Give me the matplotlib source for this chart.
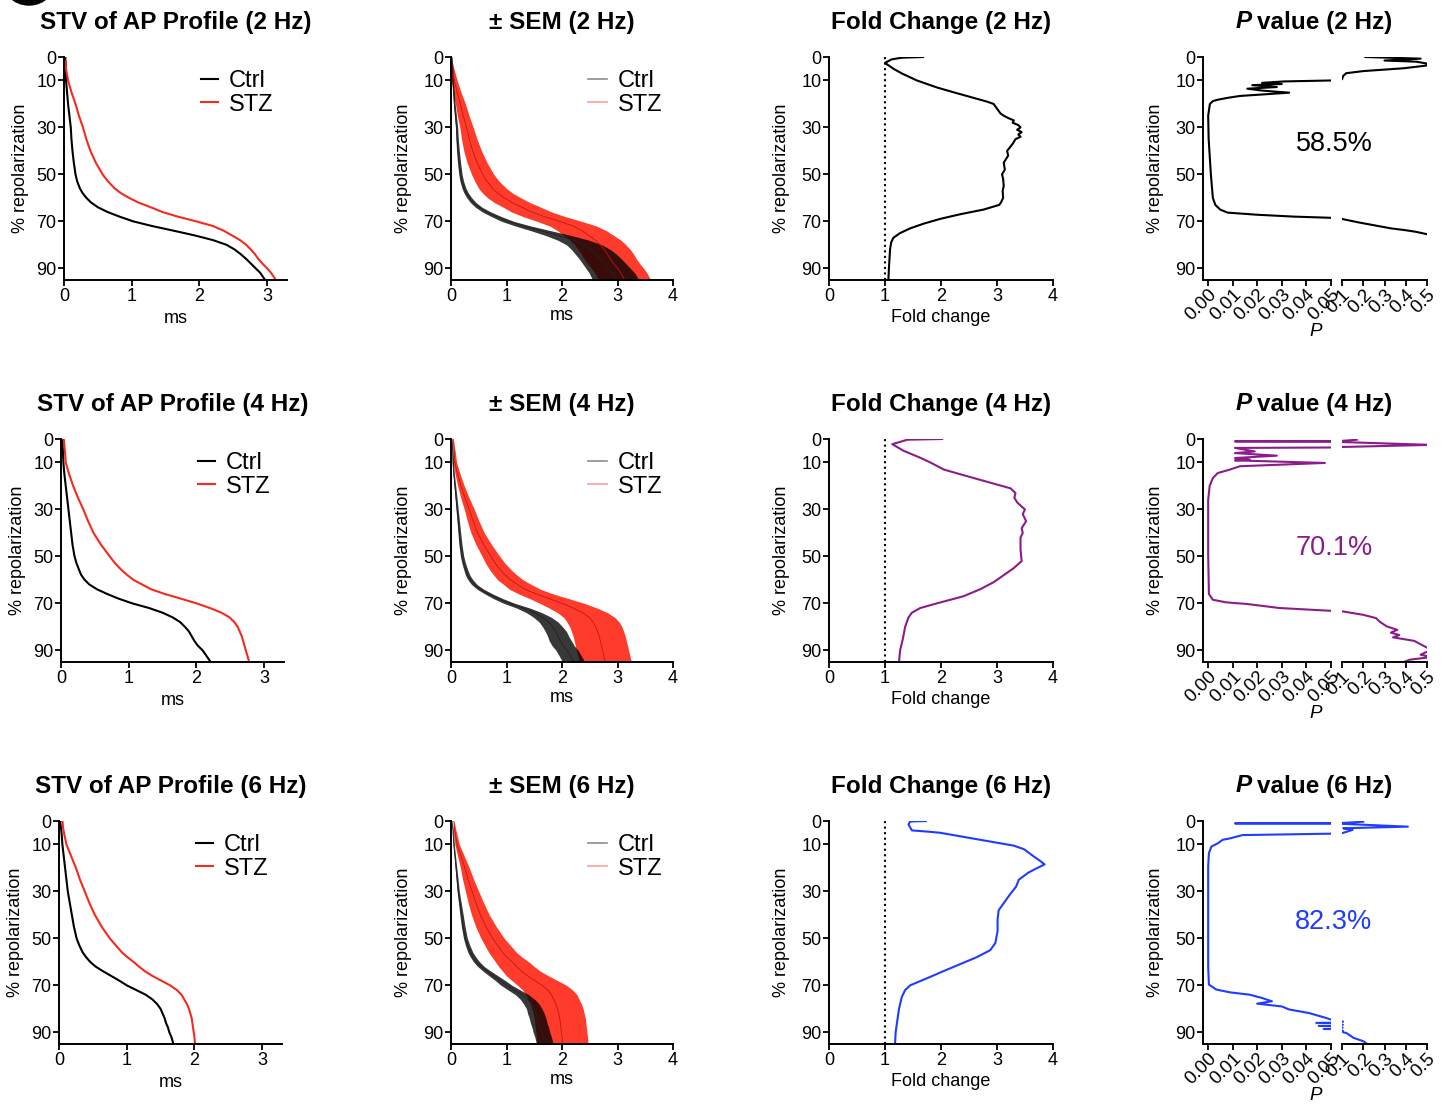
import numpy as np
import matplotlib
matplotlib.use("Agg")
import matplotlib.pyplot as plt
from matplotlib.lines import Line2D
from matplotlib.patches import Ellipse

plt.rcParams['font.family'] = ['Liberation Sans', 'DejaVu Sans']

W, H = 1446, 1106
RED = '#f52a1e'
PURPLE = '#8b1c8b'
BLUE = '#1f3cff'

freqs = ['2 Hz', '4 Hz', '6 Hz']
pct_text = ['58.5%', '70.1%', '82.3%']
line_colors = ['black', PURPLE, BLUE]

# % repolarization levels for the STV / SEM curves
levels = [0, 1, 3, 6, 10, 15, 20, 25, 30, 35, 40, 45, 50, 53, 56, 58, 60, 62, 64, 66,
          68, 70, 72, 74, 76, 78, 80, 82, 84, 86, 88, 90, 92, 95]

# STV (ms) at each level
ctrl_2hz = [0.02, 0.02, 0.025, 0.028, 0.03, 0.045, 0.06, 0.08, 0.10, 0.11, 0.125, 0.145, 0.17, 0.195, 0.235, 0.275,
            0.33, 0.4, 0.5, 0.64, 0.82, 1.02, 1.3, 1.62, 1.93, 2.2, 2.4, 2.52, 2.61, 2.69, 2.76, 2.83, 2.9, 2.97]
stz_2hz = [0.0, 0.005, 0.02, 0.035, 0.06, 0.11, 0.17, 0.22, 0.28, 0.33, 0.39, 0.47, 0.57, 0.65, 0.75, 0.84, 0.96,
           1.1, 1.28, 1.45, 1.68, 1.95, 2.2, 2.36, 2.48, 2.6, 2.69, 2.76, 2.82, 2.87, 2.93, 3.0, 3.06, 3.13]
ctrl_4hz = [0.02, 0.02, 0.025, 0.03, 0.035, 0.05, 0.07, 0.09, 0.11, 0.13, 0.15, 0.17, 0.2, 0.23, 0.27, 0.3, 0.35,
            0.42, 0.53, 0.68, 0.85, 1.05, 1.3, 1.5, 1.65, 1.76, 1.83, 1.89, 1.93, 1.97, 2.02, 2.09, 2.14, 2.21]
stz_4hz = [0.04, 0.045, 0.05, 0.06, 0.07, 0.12, 0.18, 0.25, 0.33, 0.4, 0.48, 0.59, 0.72, 0.8, 0.9, 0.98, 1.07,
           1.2, 1.33, 1.53, 1.77, 2.0, 2.2, 2.37, 2.49, 2.56, 2.61, 2.64, 2.67, 2.69, 2.71, 2.73, 2.75, 2.78]
ctrl_6hz = [0.02, 0.02, 0.03, 0.04, 0.05, 0.07, 0.09, 0.11, 0.13, 0.16, 0.19, 0.22, 0.26, 0.3, 0.35, 0.4, 0.46,
            0.54, 0.65, 0.77, 0.89, 1.0, 1.14, 1.28, 1.38, 1.45, 1.5, 1.53, 1.56, 1.58, 1.61, 1.63, 1.66, 1.69]
stz_6hz = [0.05, 0.055, 0.06, 0.08, 0.11, 0.18, 0.25, 0.31, 0.38, 0.45, 0.53, 0.63, 0.75, 0.84, 0.93, 1.01, 1.1,
           1.18, 1.27, 1.38, 1.51, 1.64, 1.74, 1.81, 1.85, 1.89, 1.92, 1.94, 1.96, 1.97, 1.98, 1.99, 2.0, 2.01]

# SEM (ms) at each level
ctrl_sem_2hz = [0, 0.003, 0.005, 0.008, 0.01, 0.012, 0.015, 0.018, 0.02, 0.022, 0.025, 0.028, 0.03, 0.033, 0.036,
                0.04, 0.045, 0.05, 0.06, 0.075, 0.09, 0.11, 0.14, 0.18, 0.23, 0.28, 0.32, 0.35, 0.37, 0.38, 0.39,
                0.4, 0.41, 0.42]
stz_sem_2hz = [0, 0.005, 0.01, 0.03, 0.05, 0.07, 0.09, 0.105, 0.12, 0.14, 0.16, 0.18, 0.2, 0.22, 0.25, 0.27, 0.3,
               0.32, 0.34, 0.36, 0.38, 0.4, 0.42, 0.44, 0.45, 0.46, 0.46, 0.47, 0.47, 0.47, 0.47, 0.47, 0.47, 0.47]
ctrl_sem_4hz = [0, 0.003, 0.005, 0.008, 0.01, 0.012, 0.015, 0.018, 0.02, 0.022, 0.025, 0.028, 0.03, 0.033, 0.036,
                0.04, 0.045, 0.05, 0.06, 0.07, 0.085, 0.1, 0.12, 0.14, 0.16, 0.17, 0.18, 0.19, 0.19, 0.2, 0.2,
                0.2, 0.2, 0.2]
stz_sem_4hz = [0, 0.005, 0.01, 0.02, 0.03, 0.045, 0.06, 0.075, 0.09, 0.105, 0.12, 0.14, 0.16, 0.175, 0.195, 0.21,
               0.23, 0.25, 0.28, 0.31, 0.35, 0.4, 0.43, 0.45, 0.46, 0.47, 0.47, 0.47, 0.47, 0.47, 0.47, 0.47, 0.47,
               0.47]
ctrl_sem_6hz = [0, 0.003, 0.005, 0.008, 0.01, 0.012, 0.015, 0.018, 0.02, 0.025, 0.03, 0.033, 0.035, 0.04, 0.045,
                0.05, 0.055, 0.06, 0.07, 0.08, 0.09, 0.1, 0.11, 0.12, 0.13, 0.14, 0.14, 0.15, 0.15, 0.15, 0.15,
                0.15, 0.15, 0.15]
stz_sem_6hz = [0, 0.01, 0.02, 0.03, 0.04, 0.06, 0.08, 0.1, 0.12, 0.14, 0.16, 0.185, 0.21, 0.23, 0.25, 0.27, 0.3,
               0.32, 0.34, 0.38, 0.41, 0.44, 0.45, 0.46, 0.46, 0.46, 0.46, 0.46, 0.46, 0.46, 0.46, 0.46, 0.46, 0.46]

# fold change (STZ / Ctrl)
fold_y_2hz = [0, 0.3, 1.0, 2.5, 5, 7, 10, 13, 15, 17, 19, 20, 22, 24, 25, 26, 27, 28, 29, 30, 31, 32, 33, 34, 35,
              37, 40, 42, 45, 48, 50, 52, 55, 57, 60, 62, 63, 65, 67, 69, 71, 73, 75, 77, 79, 82, 86, 90, 95]
fold_2hz = [1.68, 1.3, 1.12, 1.0, 1.15, 1.3, 1.57, 1.93, 2.22, 2.52, 2.82, 2.94, 3.0, 3.06, 3.12, 3.2, 3.3, 3.28,
            3.38, 3.42, 3.36, 3.44, 3.38, 3.42, 3.33, 3.28, 3.18, 3.2, 3.12, 3.14, 3.09, 3.11, 3.12, 3.1, 3.11,
            3.07, 3.04, 2.76, 2.34, 1.98, 1.69, 1.45, 1.27, 1.15, 1.11, 1.09, 1.08, 1.07, 1.06]
fold_y_4hz = [0, 0.3, 2.2, 5, 8, 10, 13, 15, 17, 19, 21, 23, 25, 27, 29, 30, 32, 35, 38, 40, 42, 47, 52, 55, 58,
              61, 64, 67, 70, 72, 74, 76, 80, 85, 90, 95]
fold_4hz = [2.02, 1.4, 1.13, 1.33, 1.63, 1.81, 2.05, 2.34, 2.64, 2.94, 3.24, 3.33, 3.31, 3.36, 3.45, 3.5, 3.46,
            3.52, 3.44, 3.46, 3.42, 3.42, 3.44, 3.3, 3.12, 2.94, 2.7, 2.4, 1.93, 1.63, 1.48, 1.42, 1.36, 1.32,
            1.27, 1.25]
fold_y_6hz = [0, 0.2, 1.5, 4, 4.5, 5, 7, 9, 10.5, 12, 15, 17, 18.5, 20, 22, 25, 28, 31, 35, 38, 42, 47, 52, 55,
              58, 61, 64, 67, 70, 72, 75, 80, 85, 90, 95]
fold_6hz = [1.73, 1.45, 1.42, 1.48, 1.75, 1.98, 2.46, 2.94, 3.3, 3.48, 3.65, 3.77, 3.85, 3.72, 3.56, 3.39, 3.34,
            3.24, 3.12, 3.03, 3.01, 3.01, 2.97, 2.88, 2.64, 2.34, 2.04, 1.75, 1.45, 1.36, 1.3, 1.25, 1.22, 1.19,
            1.18]

# P values
p_y_2hz = [0, 0.7, 1.5, 2.0, 2.8, 3.4, 4.8, 6.0, 6.9, 8.0, 9.5, 10.0, 10.4, 11.0, 11.5, 12.0, 12.8, 13.5, 14.3,
           15.2, 16.6, 17.4, 18.2, 18.8, 20, 25, 35, 50, 60, 63, 65, 66.3, 67.2, 68, 68.5, 69, 70.5, 72, 73, 73.8,
           74.5, 75.5, 76.5]
p_2hz = [0.21, 0.47, 0.3, 0.45, 0.5, 0.52, 0.39, 0.2, 0.12, 0.106, 0.1, 0.05, 0.031, 0.022, 0.03, 0.018, 0.028,
         0.016, 0.022, 0.033, 0.013, 0.008, 0.004, 0.002, 0.0008, 0.0001, 0.0003, 0.0012, 0.002, 0.003, 0.005,
         0.008, 0.02, 0.035, 0.05, 0.1, 0.18, 0.27, 0.33, 0.4, 0.45, 0.5, 0.55]
p_y_4hz = [0.3, 0.8, 1.0, 1.3, 2.5, 3.4, 3.8, 5.3, 6.0, 7.1, 8.1, 8.8, 9.1, 10.2, 11.6, 13, 14.5, 16.6, 20, 26,
           49, 66, 68.5, 69.6, 70.3, 72, 73.2, 73.4, 74.9, 76.3, 78, 79.8, 81.3, 82.5, 83.5, 84.5, 86, 88.4, 89.8,
           91.9, 92.9, 94, 95]
p_4hz = [0.17, 0.1, 0.011, 0.1, 0.52, 0.1, 0.011, 0.019, 0.011, 0.028, 0.011, 0.017, 0.011, 0.0475, 0.013, 0.009,
         0.004, 0.002, 0.0007, 0.0001, 0.0001, 0.0004, 0.002, 0.0075, 0.016, 0.029, 0.05, 0.1, 0.2, 0.26, 0.28,
         0.31, 0.36, 0.33, 0.37, 0.34, 0.44, 0.49, 0.52, 0.47, 0.52, 0.42, 0.39]
p_y_6hz = [0.3, 0.8, 1.0, 1.2, 2.4, 3.1, 3.8, 5.2, 5.4, 6.0, 7.4, 8.0, 9.5, 10.9, 13.7, 19.4, 62, 69.7, 71.8, 73,
           74, 75.4, 76.8, 77.8, 79, 80.3, 81.8, 83.9, 84.6, 85.5, 86, 86.8, 87.3, 88, 88.6, 89.3, 90, 90.3, 92.4,
           93.8, 95]
p_6hz = [0.2, 0.11, 0.011, 0.1, 0.41, 0.106, 0.15, 0.1, 0.05, 0.014, 0.009, 0.006, 0.004, 0.0014, 0.0004, 0.0001,
         0.0001, 0.0004, 0.0034, 0.009, 0.017, 0.022, 0.026, 0.02, 0.03, 0.033, 0.041, 0.048, 0.05, 0.105, 0.044,
         0.104, 0.045, 0.103, 0.047, 0.104, 0.105, 0.12, 0.155, 0.2, 0.22]

ctrl_all = [ctrl_2hz, ctrl_4hz, ctrl_6hz]
stz_all = [stz_2hz, stz_4hz, stz_6hz]
ctrl_sem_all = [ctrl_sem_2hz, ctrl_sem_4hz, ctrl_sem_6hz]
stz_sem_all = [stz_sem_2hz, stz_sem_4hz, stz_sem_6hz]
fold_y_all = [fold_y_2hz, fold_y_4hz, fold_y_6hz]
fold_all = [fold_2hz, fold_4hz, fold_6hz]
p_y_all = [p_y_2hz, p_y_4hz, p_y_6hz]
p_all = [p_2hz, p_4hz, p_6hz]
pct_y = [37, 46.5, 43]


def px_rect(l, t, r, b):
    return [l / W, 1 - b / H, (r - l) / W, (b - t) / H]


def style(ax, yaxis=True):
    ax.spines['top'].set_visible(False)
    ax.spines['right'].set_visible(False)
    ax.spines['bottom'].set_linewidth(1.4)
    ax.spines['left'].set_linewidth(1.4)
    ax.tick_params(direction='out', length=4, width=1.3, labelsize=13, pad=1.5)
    ax.set_ylim(95, 0)
    if yaxis:
        ax.set_yticks([0, 10, 30, 50, 70, 90])
    else:
        ax.spines['left'].set_visible(False)
        ax.set_yticks([])


def ftext(x, y, s, **kw):
    fig.text(x / W, 1 - y / H, s, **kw)


fig = plt.figure(figsize=(W / 100, H / 100), dpi=100)

rows = [(57, 280), (439, 662), (821, 1044)]
col1_left = [64, 61, 59]

for i in range(3):
    top, bot = rows[i]
    lv = np.array(levels)
    ctrl = np.array(ctrl_all[i])
    stz = np.array(stz_all[i])
    csem = np.array(ctrl_sem_all[i])
    ssem = np.array(stz_sem_all[i])
    c = line_colors[i]

    # STV of AP profile
    l1 = col1_left[i]
    ax = fig.add_axes(px_rect(l1, top, l1 + 223.4, bot))
    ax.plot(ctrl, lv, color='black', lw=1.5, label='Ctrl')
    ax.plot(stz, lv, color=RED, lw=1.5, label='STZ')
    ax.set_xlim(0, 3.3)
    ax.set_xticks([0, 1, 2, 3])
    style(ax)
    ax.set_xlabel('ms', fontsize=13, labelpad=4)
    ax.set_ylabel('% repolarization', fontsize=13, labelpad=5)
    ax.legend(loc='upper left', bbox_to_anchor=(0.615, 0.94), frameon=False,
              fontsize=17, handlelength=0.7, handletextpad=0.45,
              labelspacing=0.05, borderpad=0, borderaxespad=0)
    ftext(l1 + 111.7, top - 35, 'STV of AP Profile (%s)' % freqs[i],
          fontsize=17.5, fontweight='bold', ha='center', va='center')

    # mean +/- SEM
    ax = fig.add_axes(px_rect(451, top, 673, bot))
    ax.fill_betweenx(lv, stz - ssem, stz + ssem, color='#ff2a1a', alpha=0.92, lw=0)
    ax.plot(stz, lv, color='#c01810', lw=0.6)
    ax.fill_betweenx(lv, ctrl - csem, ctrl + csem, color='black', alpha=0.78, lw=0)
    ax.plot(ctrl, lv, color='#222222', lw=0.6)
    ax.set_xlim(0, 4)
    ax.set_xticks([0, 1, 2, 3, 4])
    style(ax)
    ax.set_xlabel('ms', fontsize=13, labelpad=1.5)
    ax.set_ylabel('% repolarization', fontsize=13, labelpad=8)
    handles = [Line2D([], [], color='black', alpha=0.45, lw=1.2),
               Line2D([], [], color=RED, alpha=0.45, lw=1.2)]
    ax.legend(handles, ['Ctrl', 'STZ'], loc='upper left', bbox_to_anchor=(0.617, 0.94),
              frameon=False, fontsize=17, handlelength=0.8, handletextpad=0.45,
              labelspacing=0.05, borderpad=0, borderaxespad=0)
    ftext(562, top - 35, '\u00b1 SEM (%s)' % freqs[i],
          fontsize=17.5, fontweight='bold', ha='center', va='center')

    # fold change
    ax = fig.add_axes(px_rect(829, top, 1053, bot))
    ax.axvline(1, color='black', ls=':', lw=1.5)
    ax.plot(fold_all[i], fold_y_all[i], color=c, lw=1.5)
    ax.set_xlim(0, 4)
    ax.set_xticks([0, 1, 2, 3, 4])
    style(ax)
    ax.set_xlabel('Fold change', fontsize=13, labelpad=3)
    ax.set_ylabel('% repolarization', fontsize=13, labelpad=8)
    ftext(941, top - 35, 'Fold Change (%s)' % freqs[i],
          fontsize=17.5, fontweight='bold', ha='center', va='center')

    # P value, broken x axis
    axl = fig.add_axes(px_rect(1203, top, 1331, bot))
    axr = fig.add_axes(px_rect(1342, top, 1427, bot))
    for a in (axl, axr):
        a.plot(p_all[i], p_y_all[i], color=c, lw=1.5)
    axl.set_xlim(-0.002, 0.05)
    axr.set_xlim(0.1, 0.5)
    style(axl)
    style(axr, yaxis=False)
    axl.set_xticks([0, 0.01, 0.02, 0.03, 0.04, 0.05])
    axl.set_xticklabels(['0.00', '0.01', '0.02', '0.03', '0.04', '0.05'],
                        rotation=45, ha='right', rotation_mode='anchor', fontsize=13.5)
    axr.set_xticks([0.1, 0.2, 0.3, 0.4, 0.5])
    axr.set_xticklabels(['0.1', '0.2', '0.3', '0.4', '0.5'],
                        rotation=45, ha='right', rotation_mode='anchor', fontsize=13.5)
    axl.tick_params(axis='x', pad=0.5)
    axr.tick_params(axis='x', pad=0.5)
    axl.set_ylabel('% repolarization', fontsize=13, labelpad=8)
    ftext(1334, top + pct_y[i] * (bot - top) / 95, pct_text[i], fontsize=19.5,
          color=c, ha='center', va='center')
    ftext(1316, bot + 51, 'P', fontsize=13.5, style='italic', ha='center', va='center')
    ftext(1252, top - 35, 'P', fontsize=17.5, fontweight='bold', style='italic',
          ha='right', va='center')
    ftext(1257, top - 35, 'value (%s)' % freqs[i], fontsize=17.5, fontweight='bold',
          ha='left', va='center')

# cropped panel badge at the top-left corner
fig.add_artist(Ellipse((29 / W, 1 + 23 / H), 56 / W, 56 / H, color='black',
                       transform=fig.transFigure, clip_on=False))

fig.savefig('out.png', dpi=100)
